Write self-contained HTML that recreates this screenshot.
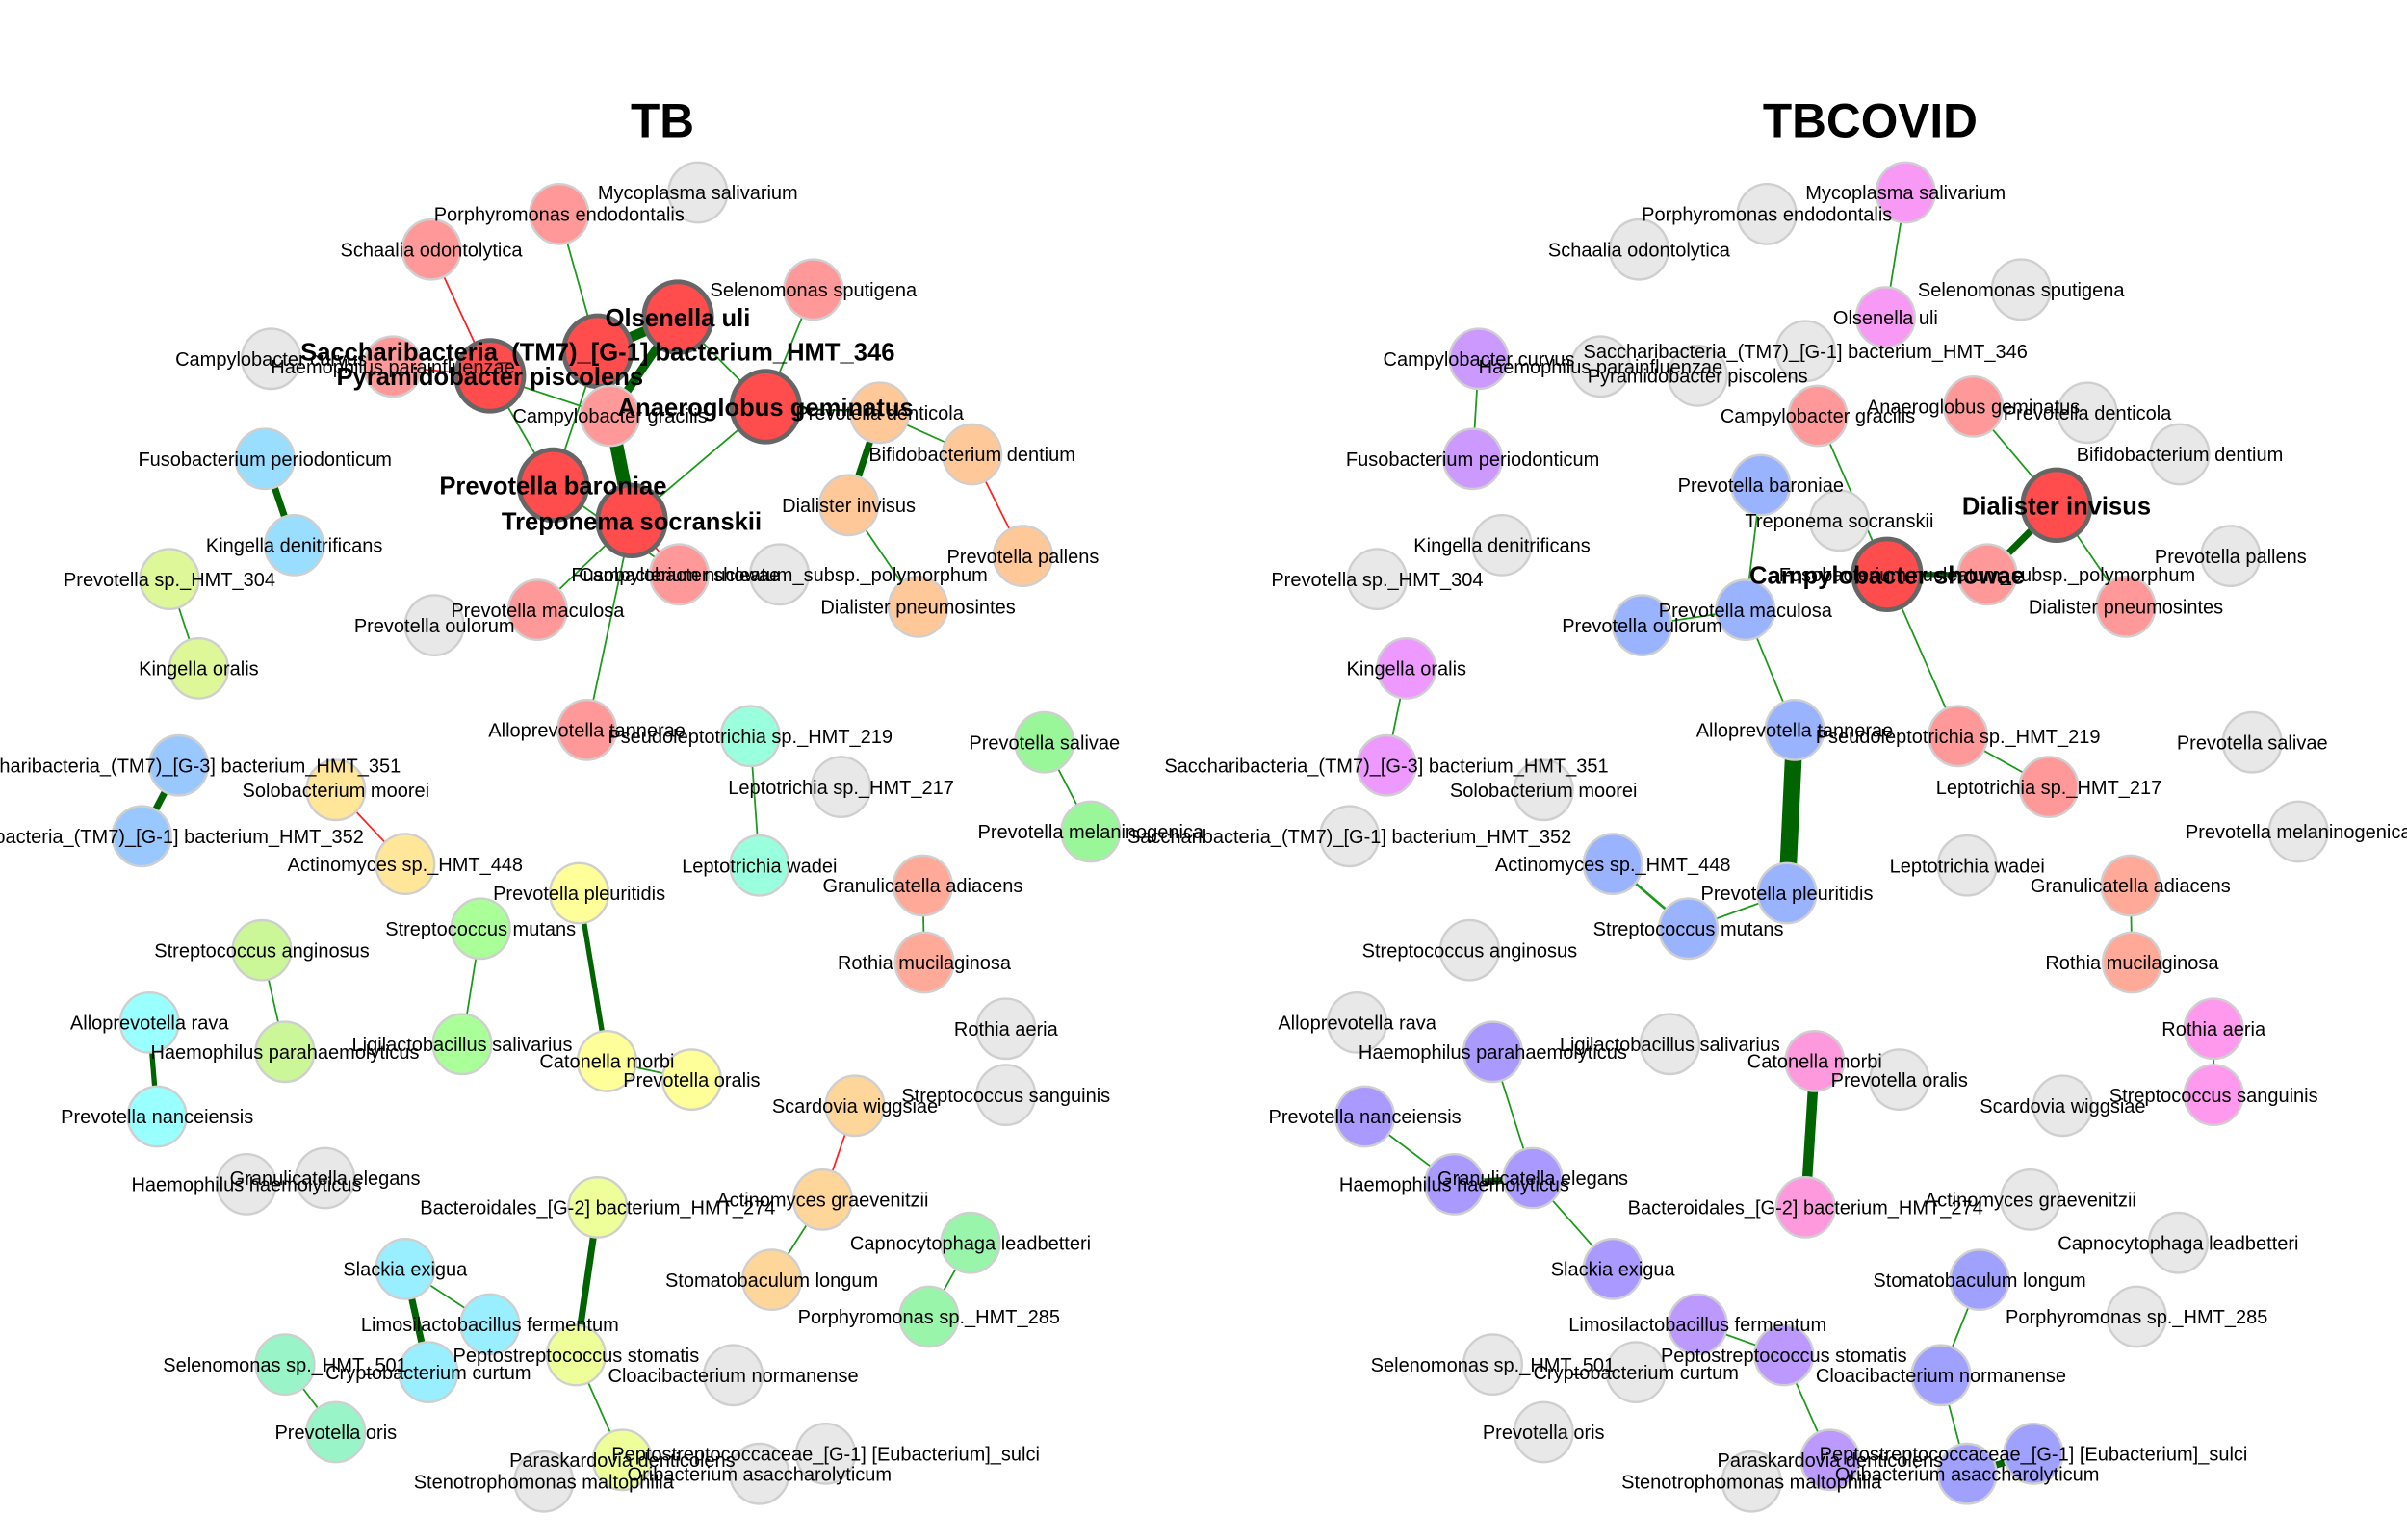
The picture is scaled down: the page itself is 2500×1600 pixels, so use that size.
<!DOCTYPE html>
<html><head><meta charset="utf-8"><style>
html,body{margin:0;padding:0;background:#fff;}
svg{display:block;}
text{font-family:"Liberation Sans",sans-serif;}
</style></head><body>
<svg id="chart" width="2500" height="1600" viewBox="0 0 1562.5 1000" xmlns="http://www.w3.org/2000/svg">
<rect width="1562.5" height="1000" fill="#fff"/>
<text x="430" y="89" font-size="31" font-weight="bold" text-anchor="middle">TB</text>
<text x="1214" y="89" font-size="31" font-weight="bold" text-anchor="middle">TBCOVID</text>
<g id="edges"></g><g id="nodes"></g><g id="labels"></g>
</svg>
<script>
const names = ["Mycoplasma salivarium","Porphyromonas endodontalis","Schaalia odontolytica","Selenomonas sputigena","Olsenella uli","Saccharibacteria_(TM7)_[G-1] bacterium_HMT_346","Campylobacter curvus","Haemophilus parainfluenzae","Pyramidobacter piscolens","Campylobacter gracilis","Anaeroglobus geminatus","Prevotella denticola","Bifidobacterium dentium","Fusobacterium periodonticum","Prevotella baroniae","Dialister invisus","Treponema socranskii","Kingella denitrificans","Prevotella pallens","Campylobacter showae","Fusobacterium nucleatum_subsp._polymorphum","Prevotella sp._HMT_304","Dialister pneumosintes","Prevotella maculosa","Prevotella oulorum","Kingella oralis","Alloprevotella tannerae","Pseudoleptotrichia sp._HMT_219","Prevotella salivae","Leptotrichia sp._HMT_217","Saccharibacteria_(TM7)_[G-3] bacterium_HMT_351","Solobacterium moorei","Prevotella melaninogenica","Saccharibacteria_(TM7)_[G-1] bacterium_HMT_352","Actinomyces sp._HMT_448","Leptotrichia wadei","Granulicatella adiacens","Prevotella pleuritidis","Streptococcus mutans","Streptococcus anginosus","Rothia mucilaginosa","Alloprevotella rava","Rothia aeria","Ligilactobacillus salivarius","Haemophilus parahaemolyticus","Catonella morbi","Prevotella oralis","Streptococcus sanguinis","Prevotella nanceiensis","Scardovia wiggsiae","Granulicatella elegans","Haemophilus haemolyticus","Actinomyces graevenitzii","Bacteroidales_[G-2] bacterium_HMT_274","Capnocytophaga leadbetteri","Slackia exigua","Stomatobaculum longum","Porphyromonas sp._HMT_285","Limosilactobacillus fermentum","Peptostreptococcus stomatis","Selenomonas sp._HMT_501","Cryptobacterium curtum","Cloacibacterium normanense","Prevotella oris","Peptostreptococcaceae_[G-1] [Eubacterium]_sulci","Paraskardovia denticolens","Oribacterium asaccharolyticum","Stenotrophomonas maltophilia"];
const posX = [453,363,280,528,440,388,176,255,318,396,497,571,631,172,359,551,410,191,664,441,506,110,596,349,282,129,381,487,678,546,116,218,708,92,263,493,599,376,312,170,600,97,653,300,185,394,449,653,102,555,211,160,534,388,630,263,501,603,318,374,185,278,476,218,536,404,493,353];
const posY = [125,139,162,188,206,228,233,238,244,270,264,268,295,298,315,328,338,354,361,373,373,376,394,396,406,434,474,478,482,511,497,513,540,543,561,562,575,580,603,617,625,664,668,678,683,689,701,711,725,718,765,769,779,784,807,824,831,855,860,880,886,891,893,930,944,948,957,962];
const G="#e8e8e8";
const tbColors = ["#e8e8e8","#ff9999","#ff9999","#ff9999","#ff4d4d","#ff4d4d",G,"#ff9999","#ff4d4d","#ff9999","#ff4d4d","#ffc899","#ffc899","#99ddff","#ff4d4d","#ffc899","#ff4d4d","#99ddff","#ffc899","#ff9999",G,"#ddf799","#ffc899","#ff9999",G,"#ddf799","#ff9999","#99ffdd","#99f799",G,"#99c8ff","#ffe699","#99f799","#99c8ff","#ffe699","#99ffdd","#ffaa99","#ffff99","#aaff99","#ccf799","#ffaa99","#99ffff",G,"#aaff99","#ccf799","#ffff99","#ffff99",G,"#99ffff","#ffd699",G,G,"#ffd699","#eeff99","#99f5aa","#99eeff","#ffd699","#99f5aa","#99eeff","#eeff99","#99f5c8","#99eeff",G,"#99f5c8",G,"#eeff99",G,G];
const covColors = ["#f799f5",G,G,G,"#f799f5",G,"#cc99ff",G,G,"#ff9999","#ff9999",G,G,"#cc99ff","#99b3ff","#ff4d4d",G,G,G,"#ff4d4d","#ff9999",G,"#ff9999","#99b3ff","#99b3ff","#ee99ff","#99b3ff","#ff9999",G,"#ff9999","#ee99ff",G,G,G,"#99b3ff",G,"#ffaa99","#99b3ff","#99b3ff",G,"#ffaa99",G,"#ff99ee",G,"#aa99ff","#ff99dd",G,"#ff99ee","#aa99ff",G,"#aa99ff","#aa99ff",G,"#ff99dd",G,"#aa99ff","#a0a0ff",G,"#bb99ff","#bb99ff",G,G,"#a0a0ff",G,"#a0a0ff","#bb99ff","#a0a0ff",G];
const tbBig = [4,5,8,10,14,16];
const covBig = [15,19];
// edges: [source, target, weight, sign]
const tbEdges = [[1,5,1,1],[2,8,1,-1],[3,10,1,1],[5,4,6,1],[4,9,5,1],[5,16,8,1],[4,10,1,1],[8,9,1,1],[8,14,1,1],[8,7,1,-1],[5,14,1,1],[10,11,1,1],[10,16,1,1],[11,15,4,1],[11,12,1,1],[12,18,1,-1],[15,22,1,1],[16,23,1,1],[14,19,1,1],[16,19,1,-1],[16,26,1,1],[13,17,4,1],[21,25,1,1],[30,33,4,1],[31,34,1,-1],[27,35,1,1],[28,32,1,1],[36,40,1,1],[37,45,3,1],[38,43,1,1],[39,44,1,1],[41,48,3,1],[49,52,1,-1],[52,56,1,1],[53,59,4,1],[59,65,1,1],[54,57,1,1],[55,61,4,1],[55,58,1,1],[60,63,1,1],[45,46,1,1]];
const covEdges = [[0,4,1,1],[6,13,1,1],[9,19,1,1],[10,15,1,1],[15,20,4,1],[19,20,3,1],[15,22,1,1],[19,27,1,1],[27,29,1,1],[14,23,1,1],[23,24,1,1],[23,26,1,1],[26,37,10,1],[37,38,1,1],[34,38,1.5,1],[25,30,1,1],[36,40,1,1],[42,47,1,1],[44,50,1,1],[48,51,1,1],[51,50,4,1],[50,55,1,1],[45,53,6,1],[58,59,1,1],[59,65,1,1],[56,62,1,1],[62,66,1,1],[66,64,4,1]];
const panelOffset = [0, 784];
const NS="http://www.w3.org/2000/svg";
const eg=document.getElementById('edges'), ng=document.getElementById('nodes'), lg=document.getElementById('labels');
function px(i,p){return posX[i]+panelOffset[p];}
function py(i){return posY[i];}
function drawPanel(p, edges, colors, big){
  const pn = p===0?'tb':'tbcovid';
  edges.forEach(e=>{
    const l=document.createElementNS(NS,'line');
    
    
    l.setAttribute('x1',px(e[0],p));l.setAttribute('y1',py(e[0]));
    l.setAttribute('x2',px(e[1],p));l.setAttribute('y2',py(e[1]));
    const thick=e[2]>2;
    l.setAttribute('stroke', e[3]<0?'#ff2020':(thick?'#006400':'#1a9a1a'));
    l.setAttribute('stroke-width', e[2]*1.1);
    eg.appendChild(l);
  });
  names.forEach((n,i)=>{
    const isBig=big.includes(i);
    const c=document.createElementNS(NS,'ellipse');
    
    
    c.setAttribute('cx',px(i,p));c.setAttribute('cy',py(i));
    c.setAttribute('rx',isBig?22:19);c.setAttribute('ry',isBig?23:19.5);
    c.setAttribute('fill',colors[i]);
    c.setAttribute('stroke',isBig?'#666':'#cfcfcf');
    c.setAttribute('stroke-width',isBig?3:1.5);
    ng.appendChild(c);
    const t=document.createElementNS(NS,'text');
    
    
    t.setAttribute('x',px(i,p));t.setAttribute('y',py(i)+(isBig?6:4.5));
    t.setAttribute('text-anchor','middle');
    t.setAttribute('font-size',isBig?16:12.5);
    if(isBig)t.setAttribute('font-weight','bold');
    t.textContent=n;
    lg.appendChild(t);
  });
}
drawPanel(0,tbEdges,tbColors,tbBig);
drawPanel(1,covEdges,covColors,covBig);
</script>
</body></html>
